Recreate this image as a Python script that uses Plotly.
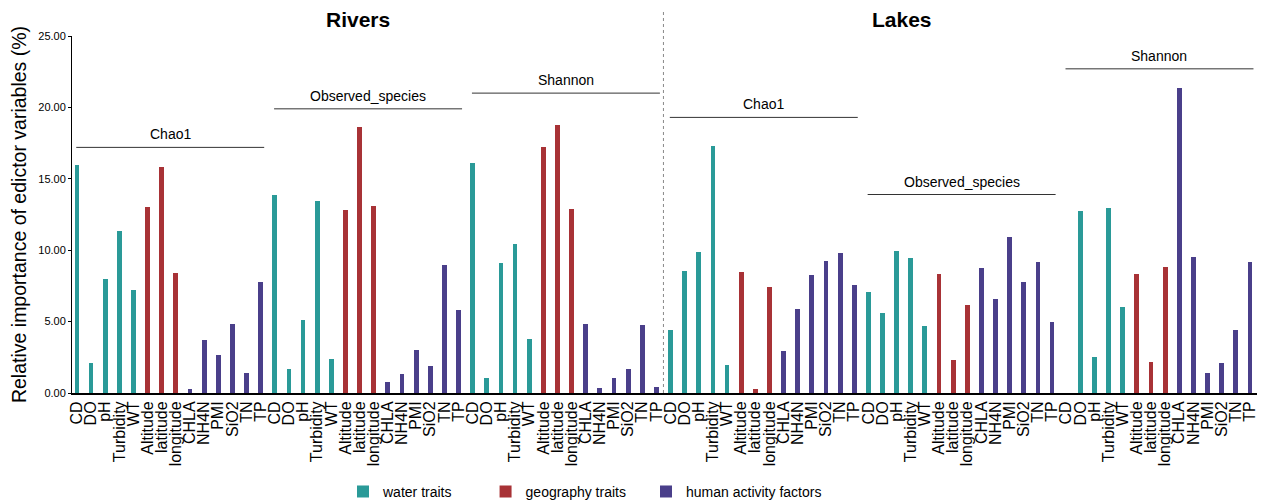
import plotly.graph_objects as go

variables = ["CD", "DO", "pH", "Turbidity", "WT",
             "Altitude", "latitude", "longitude",
             "CHLA", "NH4N", "PMI", "SiO2", "TN", "TP"]
var_group = ["water traits"] * 5 + ["geography traits"] * 3 + ["human activity factors"] * 6

habitats = ["Rivers", "Lakes"]
indices = ["Chao1", "Observed_species", "Shannon"]

# relative importance (%) per variable
rivers_chao1 = [16.0, 2.1, 8.0, 11.35, 7.2, 13.0, 15.8, 8.4, 0.3, 3.7, 2.65, 4.8, 1.4, 7.75]
rivers_observed = [13.85, 1.7, 5.1, 13.45, 2.4, 12.85, 18.65, 13.1, 0.8, 1.3, 3.0, 1.9, 8.95, 5.8]
rivers_shannon = [16.1, 1.05, 9.1, 10.4, 3.75, 17.2, 18.8, 12.9, 4.85, 0.35, 1.05, 1.7, 4.75, 0.45]
lakes_chao1 = [4.4, 8.55, 9.85, 17.3, 1.95, 8.45, 0.25, 7.4, 2.95, 5.9, 8.25, 9.25, 9.8, 7.55]
lakes_observed = [7.1, 5.6, 9.95, 9.45, 4.7, 8.3, 2.3, 6.15, 8.75, 6.55, 10.95, 7.8, 9.2, 5.0]
lakes_shannon = [0.0, 12.75, 2.55, 12.95, 6.0, 8.3, 2.2, 8.8, 21.35, 9.55, 1.4, 2.1, 4.4, 9.2]

# (index name, values, height of the line over the group)
groups = [
    ("Chao1", rivers_chao1, 17.2),
    ("Observed_species", rivers_observed, 19.9),
    ("Shannon", rivers_shannon, 21.0),
    ("Chao1", lakes_chao1, 19.3),
    ("Observed_species", lakes_observed, 13.9),
    ("Shannon", lakes_shannon, 22.7),
]

colors = {"water traits": "#2A9A98",
          "geography traits": "#A83236",
          "human activity factors": "#4A3F8A"}

n = len(variables)
xs = {k: [] for k in colors}
ys = {k: [] for k in colors}
tickvals, ticktext = [], []
for g, (name, vals, _) in enumerate(groups):
    for i, v in enumerate(vals):
        pos = g * n + i
        xs[var_group[i]].append(pos)
        ys[var_group[i]].append(v)
        tickvals.append(pos)
        ticktext.append(variables[i])

# one legend per category so each entry can sit where the original puts it
legend_ids = ["legend", "legend2", "legend3"]
legend_x = [0.2287, 0.349, 0.4844]

fig = go.Figure()
for (k, c), lid in zip(colors.items(), legend_ids):
    fig.add_trace(go.Bar(x=xs[k], y=ys[k], name=k, marker_color=c,
                         marker_line_width=0, width=0.34, legend=lid, showlegend=True))

# index labels with a line over each group
for g, (name, vals, line_y) in enumerate(groups):
    x0 = g * n - 0.05
    x1 = g * n + 13.25
    fig.add_shape(type="line", x0=x0, x1=x1, y0=line_y, y1=line_y,
                  line=dict(color="#333333", width=1))
    fig.add_annotation(x=(x0 + x1) / 2, y=line_y, text=name, showarrow=False,
                       font=dict(size=14, color="black"), yanchor="middle", yshift=13)

# Rivers | Lakes separator
fig.add_shape(type="line", x0=41.5, x1=41.5, y0=0, y1=1.075, yref="paper",
              line=dict(color="#888888", width=1, dash="dot"))
for hab, xc in zip(habitats, [19.9, 58.4]):
    fig.add_annotation(x=xc, y=1.047, yref="paper", text="<b>%s</b>" % hab,
                       showarrow=False, yanchor="middle",
                       font=dict(size=21, color="black"))

legend_style = dict(orientation="h", xanchor="left", y=-0.277, yanchor="middle",
                    font=dict(size=14), itemwidth=30, bgcolor="rgba(0,0,0,0)")
fig.update_layout(
    width=1252, height=503,
    margin=dict(l=64, r=3, t=28, b=112),
    plot_bgcolor="white", paper_bgcolor="white",
    font=dict(family="Liberation Sans, Arial, sans-serif", color="black"),
    bargap=0,
    showlegend=True,
    legend=dict(x=legend_x[0], **legend_style),
    legend2=dict(x=legend_x[1], **legend_style),
    legend3=dict(x=legend_x[2], **legend_style),
    xaxis=dict(range=[-0.35, 83.5], tickvals=tickvals, ticktext=ticktext,
               tickangle=-90, tickfont=dict(size=16), showgrid=False, automargin=False,
               showline=True, linecolor="black", linewidth=2, ticks="", zeroline=False),
    yaxis=dict(range=[0, 25], dtick=5, tickformat=".2f", showgrid=False, automargin=False,
               showline=True, linecolor="black", linewidth=1,
               ticks="outside", ticklen=3, tickcolor="black",
               tickfont=dict(size=11, family="Liberation Sans Narrow, Arial Narrow, sans-serif"),
               title=dict(text="Relative importance of edictor variables (%)",
                          font=dict(size=19.5), standoff=6),
               zeroline=False),
)

fig.write_html("out.html")
